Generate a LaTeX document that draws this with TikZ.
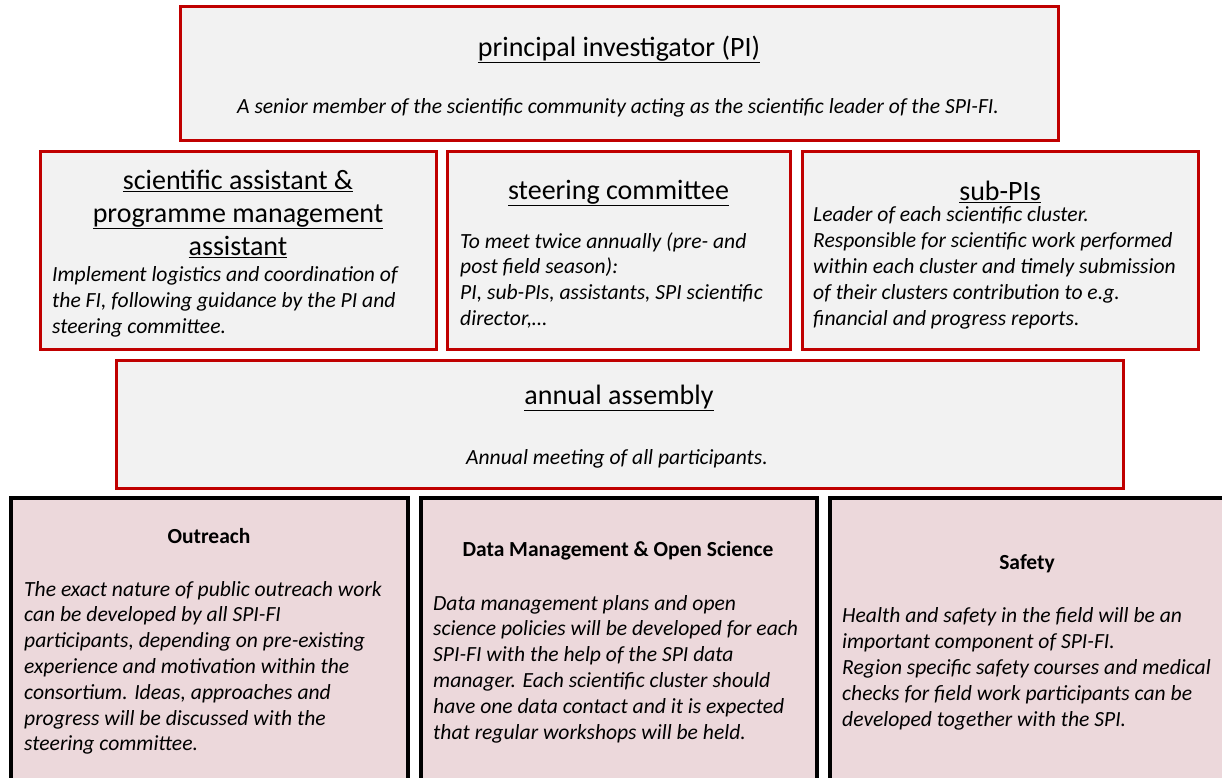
\documentclass[tikz,border=0pt]{standalone}
\usepackage{fontspec}
\setmainfont{Carlito}
\usepackage{tikz}

\definecolor{boxred}{HTML}{C00000}
\definecolor{boxgray}{HTML}{F2F2F2}
\definecolor{boxpink}{HTML}{ECD8DB}
\newcommand{\capstrut}{\rule{0pt}{0.8em}}

\tikzset{
  redbox/.style={draw=boxred, fill=boxgray, line width=3pt, inner sep=0pt},
  blackbox/.style={draw=black, fill=boxpink, line width=4pt, inner sep=0pt},
  titletext/.style={font=\fontsize{28}{33}\selectfont, align=center, inner sep=0pt, anchor=north},
  headtext/.style={font=\fontsize{21.5}{25.8}\selectfont\bfseries, inner sep=0pt, anchor=north},
  bodytext/.style={font=\fontsize{21.6}{25.8}\selectfont\itshape, align=left, inner sep=0pt, anchor=north west},
}

\begin{document}
\begin{tikzpicture}[x=1pt, y=-1pt]
  \useasboundingbox (0,0) rectangle (1222,777);
  % upper level: red boxes
  \node[redbox, minimum width=878pt, minimum height=134pt] (pi) at (619,73) {};
  \node[redbox, minimum width=396pt, minimum height=198pt] (assist) at (238,250) {};
  \node[redbox, minimum width=343pt, minimum height=198pt] (steer) at (618.5,250) {};
  \node[redbox, minimum width=396pt, minimum height=198pt] (subpi) at (1000,250) {};
  \node[redbox, minimum width=1007pt, minimum height=128pt] (assembly) at (619.5,424) {};
  % lower level: pink boxes, running off the page
  \node[blackbox, minimum width=397pt, minimum height=302pt] (outreach) at (209.5,649) {};
  \node[blackbox, minimum width=396pt, minimum height=302pt] (datamgmt) at (619,649) {};
  \node[blackbox, minimum width=397pt, minimum height=302pt] (safety) at (1028.5,649) {};

  \node[titletext] (pititle) at (619,33.6) {\capstrut\underline{principal investigator (PI)}};
  \node[bodytext, anchor=north] (pitext) at (618,95.7) {\capstrut A senior member of the scientific community acting as the scientific leader of the SPI-FI.};

  \node[titletext] (assisttitle) at (238,166.6) {\capstrut\underline{scientific assistant \&}\\\underline{programme management}\\\underline{assistant}};
  \node[bodytext] (assisttext) at (52,264.4) {\capstrut Implement logistics and coordination of\\the FI, following guidance by the PI and\\steering committee.};

  \node[titletext] (steertitle) at (618.5,176.6) {\capstrut\underline{steering committee}};
  \node[bodytext] (steertext) at (460,230.7) {\capstrut To meet twice annually (pre- and\\post field season):\\PI, sub-PIs, assistants, SPI scientific\\director,\dots};

  \node[titletext] (subpititle) at (1000,177.6) {\capstrut\underline{sub-PIs}};
  \node[bodytext] (subpitext) at (813,204.4) {\capstrut Leader of each scientific cluster.\\Responsible for scientific work performed\\within each cluster and timely submission\\of their clusters contribution to e.g.\\financial and progress reports.};

  \node[titletext] (assemblytitle) at (619,381.6) {\capstrut\underline{annual assembly}};
  \node[bodytext, anchor=north] (assemblytext) at (617,446.7) {\capstrut Annual meeting of all participants.};

  \node[headtext] (outreachhead) at (209,525.8) {\capstrut Outreach};
  \node[bodytext] (outreachtext) at (24,578.7) {\capstrut The exact nature of public outreach work\\can be developed by all SPI-FI\\participants, depending on pre-existing\\experience and motivation within the\\consortium. Ideas, approaches and\\progress will be discussed with the\\steering committee.};

  \node[headtext] (datahead) at (618,538.8) {\capstrut Data Management \& Open Science};
  \node[bodytext] (datatext) at (433,592.7) {\capstrut Data management plans and open\\science policies will be developed for each\\SPI-FI with the help of the SPI data\\manager. Each scientific cluster should\\have one data contact and it is expected\\that regular workshops will be held.};

  \node[headtext] (safetyhead) at (1027,551.8) {\capstrut Safety};
  \node[bodytext] (safetytext) at (842,605.4) {\capstrut Health and safety in the field will be an\\important component of SPI-FI.\\Region specific safety courses and medical\\checks for field work participants can be\\developed together with the SPI.};
\end{tikzpicture}
\end{document}
